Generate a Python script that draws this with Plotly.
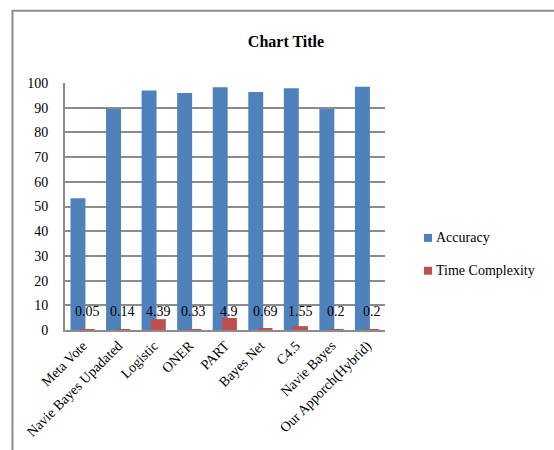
import plotly.graph_objects as go

categories = ["Meta Vote", "Navie Bayes Upadated", "Logistic", "ONER", "PART",
              "Bayes Net", "C4.5", "Navie Bayes", "Our Apporch(Hybrid)"]
accuracy = [53.3, 89.5, 97.0, 96.0, 98.3, 96.4, 97.9, 89.5, 98.5]
time_complexity = [0.05, 0.14, 4.39, 0.33, 4.9, 0.69, 1.55, 0.2, 0.2]
time_labels = ["0.05", "0.14", "4.39", "0.33", "4.9", "0.69", "1.55", "0.2", "0.2"]
yticks = [0, 10, 20, 30, 40, 50, 60, 70, 80, 90, 100]
series_names = ["Accuracy", "Time Complexity"]
series_colors = ["#4F81BD", "#C0504D"]

FONT = "Liberation Serif"
GRID = "#8c8c8c"
W, H = 554, 450
L, R, T, B = 65, 169, 82.5, 119.5
PW, PH = W - L - R, H - T - B

BAR_W = 0.42
fig = go.Figure()
fig.add_trace(go.Bar(x=categories, y=accuracy, name=series_names[0],
                     width=BAR_W, offset=-0.345,
                     marker=dict(color=series_colors[0], line=dict(width=0))))
fig.add_trace(go.Bar(x=categories, y=time_complexity, name=series_names[1],
                     width=BAR_W, offset=-0.085,
                     marker=dict(color=series_colors[1], line=dict(width=0)),
                     text=time_labels, textposition="none"))

# data labels for time complexity (centred over the red bars)
for c, t in zip(categories, time_labels):
    fig.add_annotation(x=c, y=7.6, text=t, showarrow=False,
                       xshift=(-0.085 + BAR_W / 2) * PW / len(categories),
                       font=dict(family=FONT, size=14, color="#000"))

# outer chart border
fig.add_shape(type="rect", xref="paper", yref="paper",
              x0=(12.5 - L) / PW, y0=-2.0, x1=3.0, y1=(H - B - 10) / PH,
              line=dict(color="#8c8c8c", width=2), fillcolor="rgba(0,0,0,0)",
              layer="below")

# legend (drawn manually to match compact symbol spacing)
for i, (nm, col) in enumerate(zip(series_names, series_colors)):
    yc = 238 + 33 * i
    fig.add_shape(type="rect", xref="paper", yref="paper",
                  x0=(424 - L) / PW, x1=(432 - L) / PW,
                  y0=(H - B - yc - 4) / PH, y1=(H - B - yc + 4) / PH,
                  line=dict(width=0), fillcolor=col)
    fig.add_annotation(xref="paper", yref="paper", x=(434 - L) / PW,
                       y=(H - B - yc) / PH, xanchor="left", yanchor="middle",
                       text=nm, showarrow=False,
                       font=dict(family=FONT, size=14, color="#000"))

fig.update_layout(
    width=W, height=H,
    margin=dict(l=L, r=R, t=T, b=B, autoexpand=False),
    paper_bgcolor="white", plot_bgcolor="white",
    barmode="overlay",
    title=dict(text="<b>Chart Title</b>", x=286 / W, xanchor="center",
               y=1 - 41 / H, yanchor="middle",
               font=dict(family=FONT, size=16, color="#000")),
    font=dict(family=FONT, size=14, color="#000"),
    showlegend=False,
    xaxis=dict(tickangle=-45, showgrid=False, showline=True,
               linecolor=GRID, linewidth=2, automargin=False,
               range=[-0.5, len(categories) - 0.5],
               tickfont=dict(family=FONT, size=14, color="#000"),
               fixedrange=True),
    yaxis=dict(range=[0, 100], tickvals=yticks, showgrid=True,
               gridcolor=GRID, gridwidth=2, showline=True,
               linecolor=GRID, linewidth=2, zeroline=False,
               ticklabelstandoff=12, automargin=False,
               tickfont=dict(family=FONT, size=14, color="#000")),
)

fig.write_html("out.html")
